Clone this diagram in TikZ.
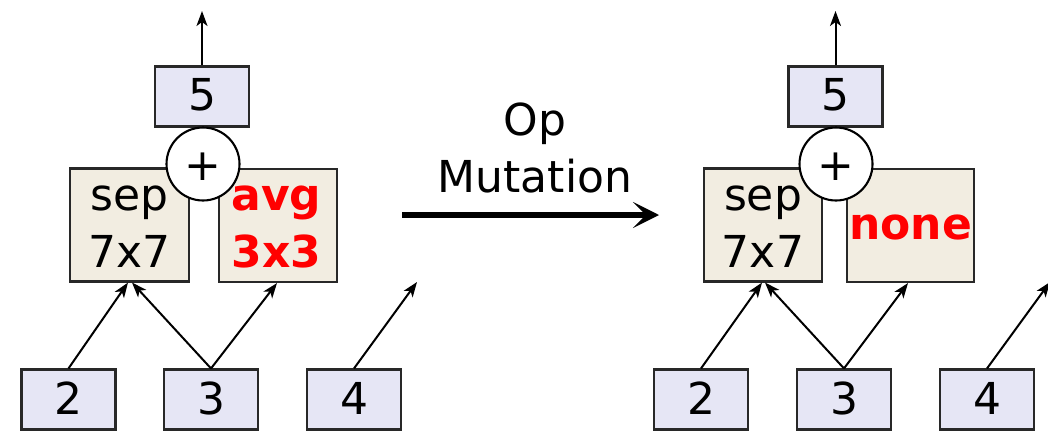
\documentclass[tikz,border=0pt]{standalone}
\usepackage{fontspec}
\setmainfont{DejaVu Sans}
\usetikzlibrary{arrows.meta}
\definecolor{cellfill}{RGB}{230,230,245}
\definecolor{opfill}{RGB}{242,237,225}
\definecolor{edgegray}{RGB}{40,40,40}
\definecolor{mutred}{RGB}{255,0,0}
\tikzset{
  cellbox/.style={draw=edgegray, line width=2.1pt, fill=cellfill, minimum width=94pt, minimum height=60pt, inner sep=0pt},
  opbox/.style={draw=edgegray, line width=2.1pt, fill=opfill, minimum height=113pt, inner sep=0pt},
  addnode/.style={circle, draw=black, line width=2.1pt, fill=white, minimum size=73pt, inner sep=0pt},
  lbl/.style={anchor=base, inner sep=0pt, font=\fontsize{44}{50}\selectfont},
  redlbl/.style={anchor=base, inner sep=0pt, text=mutred, font=\fontsize{44}{50}\selectfont\bfseries},
  flow/.style={-{Stealth[length=15pt,width=11pt,inset=4pt]}, line width=2pt},
  bigflow/.style={-{Stealth[length=26pt,width=26pt,inset=13pt]}, line width=6pt}
}
\begin{document}
\begin{tikzpicture}[x=1pt,y=-1pt]
\useasboundingbox (0,0) rectangle (1048,431);

% ---------- left cell ----------
\node[cellbox] (Lfive) at (202,96.5) {};
\node[lbl] (Lfivet) at (202,110) {5};
\node[opbox, minimum width=119pt] (Lsep) at (129.5,225) {};
\node[opbox, minimum width=118pt] (Lavg) at (278,225.5) {};
\node[addnode] (Ladd) at (203,164) {};
\node[lbl] (Laddt) at (203,180) {+};
\node[lbl] (Lsepa) at (129.5,210) {sep};
\node[lbl] (Lsepb) at (129.5,267) {7x7};
\node[redlbl] (Lavga) at (276.5,210) {avg};
\node[redlbl] (Lavgb) at (276.5,267) {3x3};
\node[cellbox] (Ltwo) at (68.5,399.5) {};
\node[cellbox] (Lthree) at (211,399.5) {};
\node[cellbox] (Lfour) at (354,399.5) {};
\node[lbl] (Ltwot) at (68.5,414) {2};
\node[lbl] (Lthreet) at (211,414) {3};
\node[lbl] (Lfourt) at (354,414) {4};
\coordinate (Lout) at (202,11);
\coordinate (Lfree) at (417,282);

\draw[flow] (Lfive.north) -- (Lout);
\draw[flow] (Ltwo.north) -- ([xshift=-1.5pt]Lsep.south);
\draw[flow] (Lthree.north) -- ([xshift=2.5pt]Lsep.south);
\draw[flow] (Lthree.north) -- ([xshift=-1pt]Lavg.south);
\draw[flow] (Lfour.north) -- (Lfree);

% ---------- mutation arrow ----------
\node[lbl] (opa) at (535,135) {Op};
\node[lbl] (opb) at (535,192) {Mutation};
\coordinate (mstart) at (402,215);
\coordinate (mend) at (659,215);
\draw[bigflow] (mstart) -- (mend);

% ---------- right cell ----------
\node[cellbox] (Rfive) at (835.5,96.5) {};
\node[lbl] (Rfivet) at (835.5,110) {5};
\node[opbox, minimum width=118pt] (Rsep) at (763,225) {};
\node[opbox, minimum width=127pt] (Rnone) at (910.5,225.5) {};
\node[addnode] (Radd) at (836,164) {};
\node[lbl] (Raddt) at (836,180) {+};
\node[lbl] (Rsepa) at (763,210) {sep};
\node[lbl] (Rsepb) at (763,267) {7x7};
\node[redlbl] (Rnonet) at (910.5,239) {none};
\node[cellbox] (Rtwo) at (701,399.5) {};
\node[cellbox] (Rthree) at (844,399.5) {};
\node[cellbox] (Rfour) at (987,399.5) {};
\node[lbl] (Rtwot) at (701,414) {2};
\node[lbl] (Rthreet) at (844,414) {3};
\node[lbl] (Rfourt) at (987,414) {4};
\coordinate (Rout) at (835.5,11);
\coordinate (Rfree) at (1050,282);

\draw[flow] (Rfive.north) -- (Rout);
\draw[flow] (Rtwo.north) -- ([xshift=-1pt]Rsep.south);
\draw[flow] (Rthree.north) -- ([xshift=2pt]Rsep.south);
\draw[flow] (Rthree.north) -- ([xshift=-2.5pt]Rnone.south);
\draw[flow] (Rfour.north) -- (Rfree);
\end{tikzpicture}
\end{document}
